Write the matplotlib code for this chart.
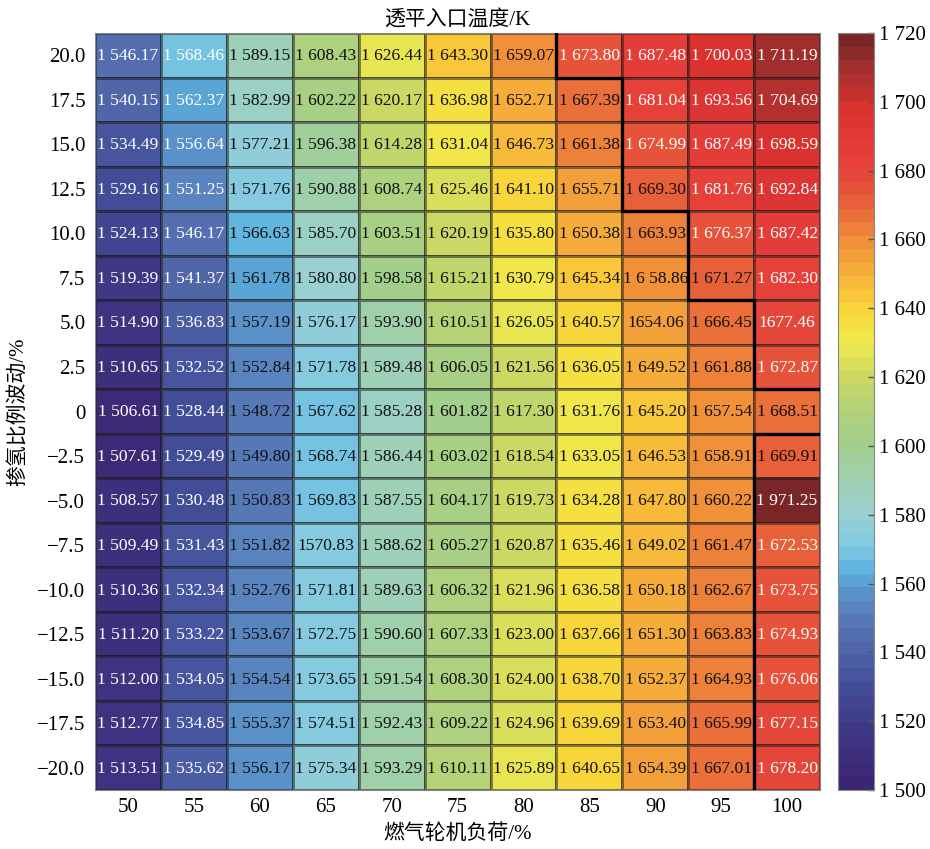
import numpy as np
import matplotlib
matplotlib.use("Agg")
import matplotlib.pyplot as plt
from matplotlib.colors import LinearSegmentedColormap, Normalize

plt.rcParams.update({
    "font.family": ["Liberation Serif", "Noto Sans CJK SC"],
    "axes.unicode_minus": True,
})

loads = [50, 55, 60, 65, 70, 75, 80, 85, 90, 95, 100]
h2_fluct = [20.0, 17.5, 15.0, 12.5, 10.0, 7.5, 5.0, 2.5, 0.0,
            -2.5, -5.0, -7.5, -10.0, -12.5, -15.0, -17.5, -20.0]
ytick_labels = ["20.0", "17.5", "15.0", "12.5", "10.0", "7.5", "5.0", "2.5", "0",
                "\u22122.5", "\u22125.0", "\u22127.5", "\u221210.0", "\u221212.5",
                "\u221215.0", "\u221217.5", "\u221220.0"]

# turbine inlet temperature, K (rows follow h2_fluct, columns follow loads)
T_in = np.array([
    [1546.17, 1568.46, 1589.15, 1608.43, 1626.44, 1643.30, 1659.07, 1673.80, 1687.48, 1700.03, 1711.19],
    [1540.15, 1562.37, 1582.99, 1602.22, 1620.17, 1636.98, 1652.71, 1667.39, 1681.04, 1693.56, 1704.69],
    [1534.49, 1556.64, 1577.21, 1596.38, 1614.28, 1631.04, 1646.73, 1661.38, 1674.99, 1687.49, 1698.59],
    [1529.16, 1551.25, 1571.76, 1590.88, 1608.74, 1625.46, 1641.10, 1655.71, 1669.30, 1681.76, 1692.84],
    [1524.13, 1546.17, 1566.63, 1585.70, 1603.51, 1620.19, 1635.80, 1650.38, 1663.93, 1676.37, 1687.42],
    [1519.39, 1541.37, 1561.78, 1580.80, 1598.58, 1615.21, 1630.79, 1645.34, 1658.86, 1671.27, 1682.30],
    [1514.90, 1536.83, 1557.19, 1576.17, 1593.90, 1610.51, 1626.05, 1640.57, 1654.06, 1666.45, 1677.46],
    [1510.65, 1532.52, 1552.84, 1571.78, 1589.48, 1606.05, 1621.56, 1636.05, 1649.52, 1661.88, 1672.87],
    [1506.61, 1528.44, 1548.72, 1567.62, 1585.28, 1601.82, 1617.30, 1631.76, 1645.20, 1657.54, 1668.51],
    [1507.61, 1529.49, 1549.80, 1568.74, 1586.44, 1603.02, 1618.54, 1633.05, 1646.53, 1658.91, 1669.91],
    [1508.57, 1530.48, 1550.83, 1569.83, 1587.55, 1604.17, 1619.73, 1634.28, 1647.80, 1660.22, 1971.25],
    [1509.49, 1531.43, 1551.82, 1570.83, 1588.62, 1605.27, 1620.87, 1635.46, 1649.02, 1661.47, 1672.53],
    [1510.36, 1532.34, 1552.76, 1571.81, 1589.63, 1606.32, 1621.96, 1636.58, 1650.18, 1662.67, 1673.75],
    [1511.20, 1533.22, 1553.67, 1572.75, 1590.60, 1607.33, 1623.00, 1637.66, 1651.30, 1663.83, 1674.93],
    [1512.00, 1534.05, 1554.54, 1573.65, 1591.54, 1608.30, 1624.00, 1638.70, 1652.37, 1664.93, 1676.06],
    [1512.77, 1534.85, 1555.37, 1574.51, 1592.43, 1609.22, 1624.96, 1639.69, 1653.40, 1665.99, 1677.15],
    [1513.51, 1535.62, 1556.17, 1575.34, 1593.29, 1610.11, 1625.89, 1640.65, 1654.39, 1667.01, 1678.20],
])

# labels typeset differently from the default "1 234.56" form
label_fix = {(5, 8): "1 6 58.86", (6, 8): "1654.06", (6, 10): "1677.46", (11, 3): "1570.83"}

# boundary of the high-temperature zone, in cell-edge units
border_a = [(7, 0), (7, 1), (8, 1), (8, 4), (9, 4), (9, 6), (10, 6), (10, 8), (11, 8)]
border_b = [(11, 9), (10, 9), (10, 17)]

vmin, vmax = 1500, 1720
anchors = [
    (1500, "#3b2672"), (1515, "#3e3684"), (1530, "#44519a"), (1545, "#5670b0"),
    (1555, "#5a8cc6"), (1563, "#5cb2df"), (1570, "#80c8e2"), (1580, "#9ad0d2"),
    (1590, "#9fd0b2"), (1600, "#a2cf8c"), (1610, "#b0d27a"), (1620, "#cbd964"),
    (1630, "#eee94e"), (1638, "#f8dc3c"), (1645, "#f8c43a"), (1655, "#f4a23a"),
    (1662, "#ee8a3a"), (1670, "#e9663a"), (1680, "#e5463a"), (1690, "#e43a38"),
    (1700, "#d9322f"), (1710, "#a8302d"), (1720, "#7a2626"),
]
cmap = LinearSegmentedColormap.from_list(
    "tin", [((v - vmin) / (vmax - vmin), c) for v, c in anchors], N=56)
norm = Normalize(vmin=vmin, vmax=vmax)

fig = plt.figure(figsize=(9.30, 8.49), dpi=100)
ax = fig.add_axes([0.1022, 0.0695, 0.7796, 0.8916])
cax = fig.add_axes([0.901, 0.0695, 0.0387, 0.8916])

nr, nc = T_in.shape
mesh = ax.pcolormesh(np.arange(nc + 1), np.arange(nr + 1), T_in, cmap=cmap, norm=norm,
                     edgecolors=(0.1, 0.1, 0.1, 0.5), linewidth=0.9)
ax.set_xlim(0, nc)
ax.set_ylim(nr, 0)

for i in range(nr):
    for j in range(nc):
        v = T_in[i, j]
        txt = label_fix.get((i, j), f"{int(v) // 1000} {v % 1000:06.2f}")
        col = "white" if (j <= 1 or v > 1672) else "#111111"
        ax.text(j + 0.5, i + 0.52, txt, ha="center", va="center",
                fontsize=12.6, color=col)

for pts in (border_a, border_b):
    xs, ys = zip(*pts)
    ax.plot(xs, ys, color="black", lw=2.4, solid_joinstyle="miter", zorder=5)

ax.set_xticks(np.arange(nc) + 0.5)
ax.set_xticklabels([str(v) for v in loads], fontsize=15)
ax.set_yticks(np.arange(nr) + 0.5)
ax.set_yticklabels(ytick_labels, fontsize=15)
ax.tick_params(axis="x", length=0, pad=6)
ax.tick_params(axis="y", length=0, pad=7)
for s in ax.spines.values():
    s.set_color("#888888")
    s.set_linewidth(0.8)

ax.set_xlabel("燃气轮机负荷/%", fontsize=15, labelpad=5)
ax.set_ylabel("掺氢比例波动/%", fontsize=15, labelpad=6)
ax.set_title("透平入口温度/K", fontsize=15, pad=6)

cb = fig.colorbar(mesh, cax=cax)
cb.set_ticks(np.arange(1500, 1721, 20))
cb.set_ticklabels([f"{t // 1000} {t % 1000:03d}" for t in range(1500, 1721, 20)])
cb.ax.tick_params(labelsize=15, direction="in", length=4, width=1, color="#555555", pad=4)
cb.outline.set_edgecolor("#888888")
cb.outline.set_linewidth(0.8)

fig.savefig("out.png", dpi=100)
